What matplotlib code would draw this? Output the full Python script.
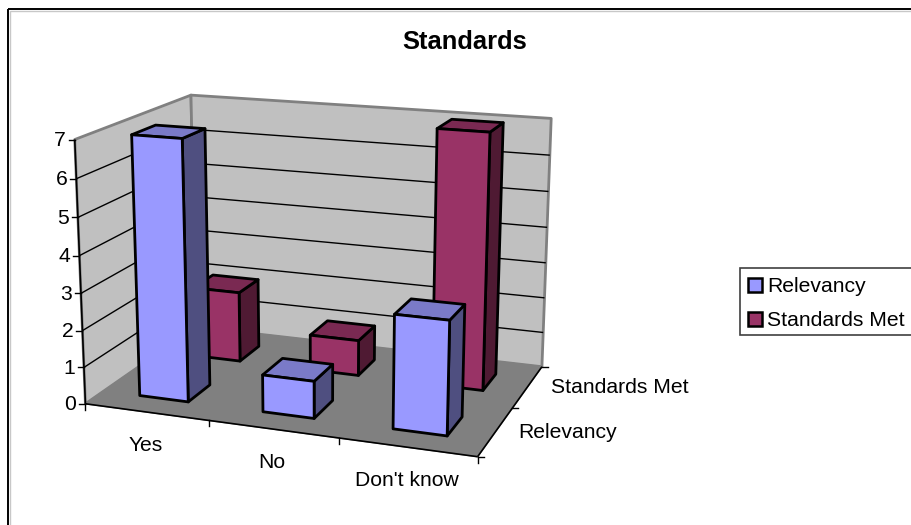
import numpy as np
import matplotlib
matplotlib.use('Agg')
import matplotlib.pyplot as plt
from matplotlib.patches import Polygon, Rectangle

categories = ["Yes", "No", "Don't know"]
series_names = ["Relevancy", "Standards Met"]
relevancy = [7, 1, 3]
standards_met = [2, 1, 7]
value_ticks = [0, 1, 2, 3, 4, 5, 6, 7]

W, H = 911, 525
BAR_W = 0.4
FS = 15.2
LIGHT = ['#9999FF', '#993366']
TOPS = ['#7A7AC8', '#7A2952']
SIDES = ['#4F4F80', '#4F1A33']

plt.rcParams['font.family'] = ['Liberation Sans', 'DejaVu Sans']
fig = plt.figure(figsize=(W / 100, H / 100), dpi=100)
ax = fig.add_axes([0, 0, 1, 1])
ax.set_xlim(0, W)
ax.set_ylim(H, 0)
ax.axis('off')

# camera: box corners (category, series, value) seen at these pixels, solved for a 3x4 projection
nc, ns, vmax = len(categories), len(series_names), value_ticks[-1]
box = [(0, 0, 0), (0, 0, vmax), (nc, 0, 0), (nc, 0, vmax),
       (0, ns, 0), (0, ns, vmax), (nc, ns, 0), (nc, ns, vmax)]
seen = [(86, 403), (74, 138), (478, 457), (485, 173),
        (195, 328), (192, 96), (542, 366), (551, 117)]
rows = []
for (x, y, z), (px, py) in zip(box, seen):
    rows.append([x, y, z, 1, 0, 0, 0, 0, -px * x, -px * y, -px * z, -px])
    rows.append([0, 0, 0, 0, x, y, z, 1, -py * x, -py * y, -py * z, -py])
cam = np.linalg.svd(np.array(rows, float))[2][-1].reshape(3, 4)


def proj(x, y, z):
    p = cam @ np.array([x, y, z, 1.0])
    return p[0] / p[2], p[1] / p[2]


def face(pts, fc, ec='black', lw=2.0, z=2):
    ax.add_patch(Polygon([proj(*q) for q in pts], closed=True, fc=fc, ec=ec, lw=lw,
                         joinstyle='round', zorder=z))


def seg(a, b, color='black', lw=1.0, z=1.5):
    pa, pb = proj(*a), proj(*b)
    ax.plot([pa[0], pb[0]], [pa[1], pb[1]], color=color, lw=lw, zorder=z, solid_capstyle='butt')


# chart frame, soft grey edge just inside the black one
ax.add_patch(Rectangle((9.5, 10.5), W, H, fc='white', ec='#C8C8C8', lw=1, zorder=0.1))
ax.add_patch(Rectangle((8, 9), W, H, fc='none', ec='black', lw=1.4, zorder=0.2))

ax.text(464.5, 42, "Standards", ha='center', va='center', fontsize=18.4, fontweight='bold')

# walls and floor
face([(0, 0, 0), (0, ns, 0), (0, ns, vmax), (0, 0, vmax)], '#C0C0C0', '#808080', 2, 1)
face([(0, ns, 0), (nc, ns, 0), (nc, ns, vmax), (0, ns, vmax)], '#C0C0C0', '#808080', 2, 1)
face([(0, 0, 0), (nc, 0, 0), (nc, ns, 0), (0, ns, 0)], '#808080', '#808080', 1, 1)

for v in value_ticks[1:-1]:
    seg((0, 0, v), (0, ns, v))
    seg((0, ns, v), (nc, ns, v))

# axes and tick marks
seg((0, 0, 0), (0, 0, vmax), lw=1.2, z=1.6)
seg((0, 0, 0), (nc, 0, 0), lw=1.2, z=1.6)
seg((nc, 0, 0), (nc, ns, 0), lw=1.2, z=1.6)
for v in value_ticks:
    px, py = proj(0, 0, v)
    ax.plot([px - 6, px], [py, py], color='black', lw=1, zorder=1.6)
    ax.text(px - 9, py + 1, str(v), ha='right', va='center', fontsize=FS)
for i in range(nc + 1):
    px, py = proj(i, 0, 0)
    ax.plot([px, px], [py, py + 6], color='black', lw=1, zorder=1.6)
for j in range(ns + 1):
    px, py = proj(nc, j, 0)
    ax.plot([px, px + 6], [py, py], color='black', lw=1, zorder=1.6)

for i, name in enumerate(categories):
    px, py = proj(i + 0.5, 0, 0)
    ax.text(px - 1, py + 33, name, ha='center', va='center', fontsize=FS)
for j, name in enumerate(series_names):
    px, py = proj(nc, j + 0.5, 0)
    ax.text(px + 23, py + 1, name, ha='left', va='center', fontsize=FS)

# bars, back row first so the front row overlaps it
for j in (1, 0):
    vals = [relevancy, standards_met][j]
    for i, v in enumerate(vals):
        x0, x1 = i + 0.5 - BAR_W / 2, i + 0.5 + BAR_W / 2
        y0, y1 = j + 0.5 - BAR_W / 2, j + 0.5 + BAR_W / 2
        zo = 3 + (1 - j) + i * 0.1
        face([(x1, y0, 0), (x1, y1, 0), (x1, y1, v), (x1, y0, v)], SIDES[j], z=zo)
        face([(x0, y0, v), (x1, y0, v), (x1, y1, v), (x0, y1, v)], TOPS[j], z=zo)
        face([(x0, y0, 0), (x1, y0, 0), (x1, y0, v), (x0, y0, v)], LIGHT[j], z=zo)

# legend
ax.add_patch(Rectangle((740, 268), W, 67, fc='white', ec='#404040', lw=1.2, zorder=6))
for k, name in enumerate(series_names):
    yc = 284.5 + k * 34
    ax.add_patch(Rectangle((747.5, yc - 7), 14, 14, fc=LIGHT[k], ec='black', lw=1.8, zorder=7))
    ax.text(767, yc + 2, name, ha='left', va='center', fontsize=FS, zorder=7)

fig.savefig('out.png', dpi=100)
